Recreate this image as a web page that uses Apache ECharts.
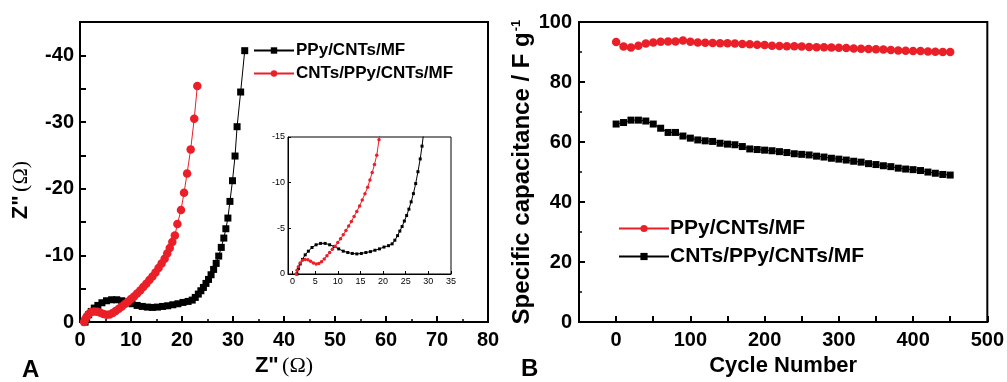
<!DOCTYPE html>
<html>
<head>
<meta charset="utf-8">
<script src="https://cdn.jsdelivr.net/npm/echarts@6/dist/echarts.min.js"></script>
<style>
  html, body { margin: 0; padding: 0; background: #fff; }
  #chart { width: 1007px; height: 382px; }
</style>
</head>
<body>
<div id="chart"></div>
<script>
// --- Panel A: Nyquist plot (Z' vs Z'') ---
const blackRe = [1.0, 1.3, 1.7, 2.2, 2.8, 3.5, 4.3, 5.2, 6.2, 7.2, 8.2, 9.2, 10.2, 11.2, 12.2, 13.2, 14.2, 15.2, 16.2, 17.2,
  18.2, 19.2, 20.2, 21.2, 22.0, 22.6, 23.2, 23.7, 24.2, 24.7, 25.2, 25.7, 26.2, 26.7, 27.2, 27.7, 28.2, 28.6, 29.0, 29.4,
  29.9, 30.4, 30.8, 31.5, 32.3];
const blackIm = [0, -0.6, -1.1, -1.6, -2.1, -2.5, -2.9, -3.2, -3.35, -3.35, -3.2, -3.0, -2.75, -2.5, -2.35, -2.25, -2.2, -2.25, -2.35, -2.45,
  -2.6, -2.75, -2.95, -3.1, -3.3, -3.7, -4.2, -4.7, -5.2, -5.8, -6.4, -7.1, -7.9, -8.8, -9.9, -11.2, -12.6, -14.0, -15.6, -18.1,
  -21.2, -24.9, -29.3, -34.5, -40.7];
const redRe = [0.8, 1.0, 1.3, 1.7, 2.2, 2.8, 3.4, 4.0, 4.6, 5.2, 5.8, 6.4, 7.0, 7.6, 8.2, 8.8, 9.4, 10.0, 10.6, 11.2,
  11.8, 12.4, 13.0, 13.6, 14.2, 14.8, 15.4, 16.0, 16.6, 17.1, 17.6, 18.1, 18.6, 19.1, 19.8, 20.4, 21.0, 21.7, 22.4, 23.0];
const redIm = [0, -0.4, -0.8, -1.2, -1.5, -1.6, -1.55, -1.4, -1.2, -1.1, -1.15, -1.35, -1.65, -2.0, -2.35, -2.7, -3.05, -3.45, -3.85, -4.3,
  -4.75, -5.25, -5.75, -6.3, -6.85, -7.45, -8.1, -8.8, -9.5, -10.3, -11.1, -12.0, -13.0, -14.7, -16.8, -19.4, -22.3, -25.9, -30.5, -35.4];

// --- Panel B: cycling stability ---
const cycles = [0, 10, 20, 30, 40, 50, 60, 70, 80, 90, 100, 110, 120, 130, 140, 150, 160, 170, 180, 190,
  200, 210, 220, 230, 240, 250, 260, 270, 280, 290, 300, 310, 320, 330, 340, 350, 360, 370, 380, 390,
  400, 410, 420, 430, 440, 450];
const capRed = [93.3, 91.8, 91.5, 92.1, 92.8, 93.2, 93.4, 93.5, 93.5, 93.8, 93.4, 93.2, 93.1, 93.0, 92.9, 92.9, 92.8, 92.7, 92.6, 92.4,
  92.3, 92.1, 92.0, 91.9, 91.9, 91.8, 91.7, 91.6, 91.6, 91.5, 91.4, 91.3, 91.2, 91.1, 91.0, 90.9, 90.8, 90.7, 90.5, 90.4,
  90.3, 90.3, 90.2, 90.1, 90.0, 90.0];
const capBlack = [66.0, 66.5, 67.3, 67.3, 67.0, 66.0, 64.6, 63.2, 63.2, 62.0, 61.3, 60.7, 60.4, 60.2, 59.6, 59.3, 59.1, 58.5, 57.7, 57.5,
  57.3, 57.1, 56.8, 56.5, 56.1, 55.9, 55.7, 55.3, 55.0, 54.6, 54.3, 54.0, 53.6, 53.3, 52.8, 52.5, 52.1, 51.8, 51.3, 51.0,
  50.8, 50.5, 50.0, 49.6, 49.2, 49.0];

const zip = (a, b) => a.map((v, i) => [v, b[i]]);
const sans = '"Liberation Sans", Arial, sans-serif';
const RED = '#ea1f27';

const chart = echarts.init(document.getElementById('chart'));

function mainAxis(extra) {
  return Object.assign({
    type: 'value',
    axisLine: { show: true, onZero: false, lineStyle: { color: '#000', width: 2 } },
    axisTick: { show: true, inside: true, length: 6, lineStyle: { color: '#000', width: 2 } },
    splitLine: { show: false },
    axisLabel: { color: '#000', fontFamily: sans, fontWeight: 'bold', fontSize: 20, margin: 8 }
  }, extra);
}
function insetAxis(extra) {
  return Object.assign({
    type: 'value',
    axisLine: { show: true, onZero: false, lineStyle: { color: '#000', width: 1 } },
    axisTick: { show: true, inside: true, length: 3, lineStyle: { color: '#000', width: 1 } },
    splitLine: { show: false },
    axisLabel: { color: '#000', fontFamily: sans, fontSize: 9, margin: 3 }
  }, extra);
}

const option = {
  animation: false,
  backgroundColor: '#fff',
  grid: [
    { left: 80, top: 22, width: 408, height: 303, show: true, borderColor: '#000', borderWidth: 2 },
    { left: 288, top: 137, width: 163, height: 137, show: true, borderColor: '#000', borderWidth: 1, backgroundColor: '#fff' },
    { left: 579, top: 22, width: 409, height: 305, show: true, borderColor: '#000', borderWidth: 2 }
  ],
  xAxis: [
    mainAxis({
      gridIndex: 0, min: 0, max: 80, interval: 10,
      minorTick: { show: true, splitNumber: 2, length: 3, lineStyle: { color: '#000', width: 1.5 } },
      name: '{b|Z"} {n|(Ω)}', nameLocation: 'middle', nameGap: 25,
      nameTextStyle: { rich: {
        b: { fontFamily: sans, fontWeight: 'bold', fontSize: 22, color: '#000' },
        n: { fontFamily: '"Liberation Serif", serif', fontSize: 22, color: '#000' }
      } }
    }),
    insetAxis({
      gridIndex: 1, min: -1, max: 35, splitNumber: 7,
      axisLabel: { color: '#000', fontFamily: sans, fontSize: 9, margin: 3, formatter: v => (v >= 0 ? String(v) : '') }
    }),
    mainAxis({
      gridIndex: 2, min: -50, max: 500, interval: 50,
      axisLabel: { color: '#000', fontFamily: sans, fontWeight: 'bold', fontSize: 20, margin: 8,
        formatter: v => (v >= 0 && v % 100 === 0 ? String(v) : '') },
      name: 'Cycle Number', nameLocation: 'middle', nameGap: 23,
      nameTextStyle: { fontFamily: sans, fontWeight: 'bold', fontSize: 22, color: '#000' }
    })
  ],
  yAxis: [
    mainAxis({
      gridIndex: 0, min: -45, max: 0, interval: 5, inverse: true,
      axisLabel: { color: '#000', fontFamily: sans, fontWeight: 'bold', fontSize: 20, margin: 6,
        formatter: v => (v % 10 === 0 ? String(v) : '') },
      name: '{b|Z"} {n|(Ω)}', nameLocation: 'middle', nameGap: 48,
      nameTextStyle: { padding: [0, 36, 0, 0], rich: {
        b: { fontFamily: sans, fontWeight: 'bold', fontSize: 22, color: '#000' },
        n: { fontFamily: '"Liberation Serif", serif', fontSize: 22, color: '#000' }
      } }
    }),
    insetAxis({ gridIndex: 1, min: -15, max: 0, interval: 5, inverse: true }),
    mainAxis({
      gridIndex: 2, min: 0, max: 100, interval: 20,
      minorTick: { show: true, splitNumber: 2, length: 3, lineStyle: { color: '#000', width: 1.5 } },
      axisLabel: { color: '#000', fontFamily: sans, fontWeight: 'bold', fontSize: 20, margin: 7 },
      name: '{t|Specific capacitance / F g}{s|-1}', nameLocation: 'middle', nameGap: 31,
      nameTextStyle: { rich: {
        t: { fontFamily: sans, fontWeight: 'bold', fontSize: 24, color: '#000' },
        s: { fontFamily: sans, fontWeight: 'bold', fontSize: 13, color: '#000', verticalAlign: 'top', padding: [0, 0, 12, 1] }
      } }
    })
  ],
  legend: [
    {
      left: 253, top: 42, padding: 0, orient: 'vertical', itemGap: 6, itemWidth: 40, itemHeight: 8,
      data: ['A:PPy/CNTs/MF', 'A:CNTs/PPy/CNTs/MF'],
      formatter: n => n.slice(2),
      textStyle: { fontFamily: sans, fontWeight: 'bold', fontSize: 17, color: '#000', padding: [0, 0, 0, -3] }
    },
    {
      left: 618, top: 218, padding: 0, orient: 'vertical', itemGap: 7, itemWidth: 50, itemHeight: 9,
      data: ['B:PPy/CNTs/MF', 'B:CNTs/PPy/CNTs/MF'],
      formatter: n => n.slice(2),
      textStyle: { fontFamily: sans, fontWeight: 'bold', fontSize: 21, color: '#000', padding: [0, 0, 0, -4] }
    }
  ],
  graphic: [
    { type: 'text', left: 22, top: 358, style: { text: 'A', font: 'bold 24px ' + sans, fill: '#000' } },
    { type: 'text', left: 521, top: 357, style: { text: 'B', font: 'bold 24px ' + sans, fill: '#000' } }
  ],
  series: [
    { name: 'A:PPy/CNTs/MF', type: 'line', xAxisIndex: 0, yAxisIndex: 0, data: zip(blackRe, blackIm),
      symbol: 'rect', symbolSize: 7, itemStyle: { color: '#000' }, lineStyle: { color: '#000', width: 1 } },
    { name: 'A:CNTs/PPy/CNTs/MF', type: 'line', xAxisIndex: 0, yAxisIndex: 0, data: zip(redRe, redIm),
      symbol: 'circle', symbolSize: 8.5, itemStyle: { color: RED }, lineStyle: { color: RED, width: 1 } },
    { name: 'inset black', type: 'line', xAxisIndex: 1, yAxisIndex: 1, data: zip(blackRe, blackIm), clip: true,
      symbol: 'rect', symbolSize: 3, itemStyle: { color: '#000' }, lineStyle: { color: '#000', width: 1 } },
    { name: 'inset red', type: 'line', xAxisIndex: 1, yAxisIndex: 1, data: zip(redRe, redIm), clip: true,
      symbol: 'circle', symbolSize: 3.5, itemStyle: { color: RED }, lineStyle: { color: RED, width: 1 } },
    { name: 'B:PPy/CNTs/MF', type: 'line', xAxisIndex: 2, yAxisIndex: 2, data: zip(cycles, capRed),
      symbol: 'circle', symbolSize: 8.5, itemStyle: { color: RED }, lineStyle: { color: RED, width: 1 } },
    { name: 'B:CNTs/PPy/CNTs/MF', type: 'line', xAxisIndex: 2, yAxisIndex: 2, data: zip(cycles, capBlack),
      symbol: 'rect', symbolSize: 7, itemStyle: { color: '#000' }, lineStyle: { color: '#000', width: 1 } }
  ]
};

chart.setOption(option);
</script>
</body>
</html>
